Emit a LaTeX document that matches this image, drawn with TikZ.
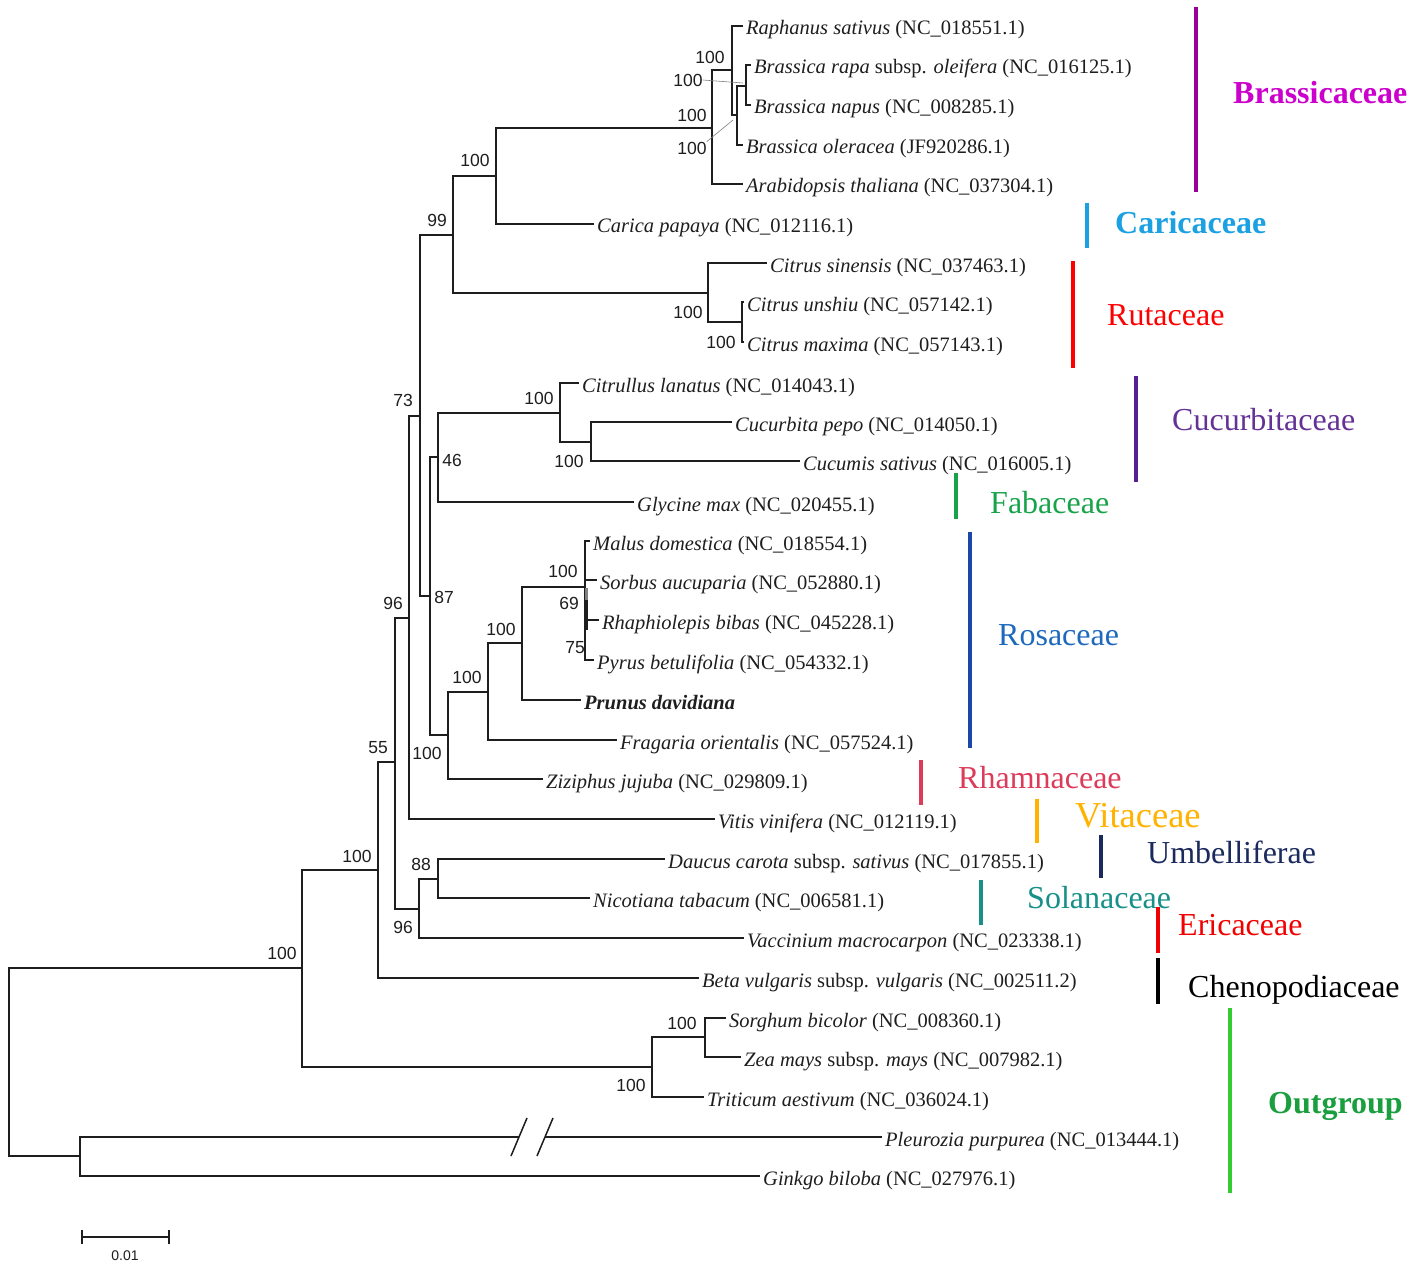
\documentclass[tikz,border=0pt]{standalone}
\usepackage{fontspec}
\setmainfont{Liberation Serif}
\newfontfamily\numfont{Liberation Sans}
\definecolor{brassbar}{RGB}{153,0,153}
\definecolor{brasstext}{RGB}{204,0,204}
\definecolor{caric}{RGB}{27,161,226}
\definecolor{rutc}{RGB}{255,0,0}
\definecolor{cucbar}{RGB}{88,30,150}
\definecolor{cuctext}{RGB}{100,50,150}
\definecolor{fabc}{RGB}{24,163,74}
\definecolor{rosbar}{RGB}{28,70,168}
\definecolor{rostext}{RGB}{30,105,190}
\definecolor{rhamc}{RGB}{220,60,90}
\definecolor{vitc}{RGB}{255,179,0}
\definecolor{umbc}{RGB}{27,42,94}
\definecolor{solc}{RGB}{22,144,136}
\definecolor{eric}{RGB}{240,0,0}
\definecolor{outbar}{RGB}{51,204,51}
\definecolor{outtext}{RGB}{26,158,62}
\definecolor{ink}{RGB}{30,30,30}
\begin{document}
\begin{tikzpicture}[x=1pt,y=-1pt,
  br/.style={line width=1.5pt, draw=ink},
  leaf/.style={anchor=west, inner sep=3pt, text=ink, font=\fontsize{20.5}{24}\selectfont, text height=18pt, text depth=0pt},
  bs/.style={font=\numfont\fontsize{17.5}{20}\selectfont, inner sep=0pt, text=ink},
  fam/.style={anchor=west, inner sep=0pt, font=\fontsize{32}{36}\selectfont, text height=21pt, text depth=0pt},
  fbar/.style={line width=4pt},
  lead/.style={line width=0.6pt, draw=gray},
]
\useasboundingbox (0,0) rectangle (1417,1271);
\fill[white] (0,0) rectangle (1417,1271);

% internal nodes
\coordinate (root) at (9,1062);
\coordinate (out) at (80,1156);
\coordinate (ing) at (302,968);
\coordinate (mono) at (652,1067);
\coordinate (sz) at (705,1037);
\coordinate (A) at (378,870);
\coordinate (B) at (395,762);
\coordinate (C) at (409,618);
\coordinate (F) at (420,416);
\coordinate (N99) at (453,235);
\coordinate (M) at (496,176);
\coordinate (brass) at (712,128);
\coordinate (b732) at (732,70);
\coordinate (b737) at (737,115);
\coordinate (b746) at (746,86);
\coordinate (rut) at (708,293);
\coordinate (cit) at (742,322);
\coordinate (G) at (430,596);
\coordinate (H) at (438,457);
\coordinate (cuc) at (560,413);
\coordinate (cuc2) at (591,442);
\coordinate (I) at (448,735);
\coordinate (J) at (488,692);
\coordinate (K) at (522,643);
\coordinate (mal) at (585,587);
\coordinate (D) at (419,909);
\coordinate (E) at (438,879);

% leaves
\node[leaf] (l1) at (743,26) {\textit{Raphanus sativus} (NC\_018551.1)};
\node[leaf] (l2) at (751,65) {\textit{Brassica rapa} subsp. \textit{oleifera} (NC\_016125.1)};
\node[leaf] (l3) at (751,105) {\textit{Brassica napus} (NC\_008285.1)};
\node[leaf] (l4) at (743,145) {\textit{Brassica oleracea} (JF920286.1)};
\node[leaf] (l5) at (743,184) {\textit{Arabidopsis thaliana} (NC\_037304.1)};
\node[leaf] (l6) at (594,224) {\textit{Carica papaya} (NC\_012116.1)};
\node[leaf] (l7) at (767,263) {\textit{Citrus sinensis} (NC\_037463.1)};
\node[leaf] (l8) at (744,302) {\textit{Citrus unshiu} (NC\_057142.1)};
\node[leaf] (l9) at (744,342) {\textit{Citrus maxima} (NC\_057143.1)};
\node[leaf] (l10) at (579,383) {\textit{Citrullus lanatus} (NC\_014043.1)};
\node[leaf] (l11) at (732,422) {\textit{Cucurbita pepo} (NC\_014050.1)};
\node[leaf] (l12) at (800,461) {\textit{Cucumis sativus} (NC\_016005.1)};
\node[leaf] (l13) at (634,502) {\textit{Glycine max} (NC\_020455.1)};
\node[leaf] (l14) at (590,541) {\textit{Malus domestica} (NC\_018554.1)};
\node[leaf] (l15) at (597,580) {\textit{Sorbus aucuparia} (NC\_052880.1)};
\node[leaf] (l16) at (599,620) {\textit{Rhaphiolepis bibas} (NC\_045228.1)};
\node[leaf] (l17) at (594,660) {\textit{Pyrus betulifolia} (NC\_054332.1)};
\node[leaf] (l18) at (581,700) {\textbf{\textit{Prunus davidiana}}};
\node[leaf] (l19) at (617,740) {\textit{Fragaria orientalis} (NC\_057524.1)};
\node[leaf] (l20) at (543,779) {\textit{Ziziphus jujuba} (NC\_029809.1)};
\node[leaf] (l21) at (715,819) {\textit{Vitis vinifera} (NC\_012119.1)};
\node[leaf] (l22) at (665,859) {\textit{Daucus carota} subsp. \textit{sativus} (NC\_017855.1)};
\node[leaf] (l23) at (590,898) {\textit{Nicotiana tabacum} (NC\_006581.1)};
\node[leaf] (l24) at (744,938) {\textit{Vaccinium macrocarpon} (NC\_023338.1)};
\node[leaf] (l25) at (699,978) {\textit{Beta vulgaris} subsp. \textit{vulgaris} (NC\_002511.2)};
\node[leaf] (l26) at (726,1018) {\textit{Sorghum bicolor} (NC\_008360.1)};
\node[leaf] (l27) at (741,1057) {\textit{Zea mays} subsp. \textit{mays} (NC\_007982.1)};
\node[leaf] (l28) at (704,1097) {\textit{Triticum aestivum} (NC\_036024.1)};
\node[leaf] (l29) at (882,1137) {\textit{Pleurozia purpurea} (NC\_013444.1)};
\node[leaf] (l30) at (760,1176) {\textit{Ginkgo biloba} (NC\_027976.1)};

% tree branches
\draw[br] (root) |- (ing);
\draw[br] (root) |- (out);
\coordinate (brk1) at (519,1137);
\coordinate (brk2) at (545,1137);
\draw[br] (out) |- (brk1);
\draw[br] (brk2) -- (l29.west);
\draw[br] (out) |- (l30.west);
\draw[br] (ing) |- (A);
\draw[br] (ing) |- (mono);
\draw[br] (mono) |- (sz);
\draw[br] (mono) |- (l28.west);
\draw[br] (sz) |- (l26.west);
\draw[br] (sz) |- (l27.west);
\draw[br] (A) |- (B);
\draw[br] (A) |- (l25.west);
\draw[br] (B) |- (C);
\draw[br] (B) |- (D);
\draw[br] (D) |- (E);
\draw[br] (D) |- (l24.west);
\draw[br] (E) |- (l22.west);
\draw[br] (E) |- (l23.west);
\draw[br] (C) |- (F);
\draw[br] (C) |- (l21.west);
\draw[br] (F) |- (N99);
\draw[br] (F) |- (G);
\draw[br] (N99) |- (M);
\draw[br] (N99) |- (rut);
\draw[br] (M) |- (brass);
\draw[br] (M) |- (l6.west);
\draw[br] (brass) |- (b732);
\draw[br] (brass) |- (l5.west);
\draw[br] (b732) |- (l1.west);
\draw[br] (b732) |- (b737);
\draw[br] (b737) |- (b746);
\draw[br] (b737) |- (l4.west);
\draw[br] (b746) |- (l2.west);
\draw[br] (b746) |- (l3.west);
\draw[br] (rut) |- (l7.west);
\draw[br] (rut) |- (cit);
\draw[br] (cit) |- (l8.west);
\draw[br] (cit) |- (l9.west);
\draw[br] (G) |- (H);
\draw[br] (G) |- (I);
\draw[br] (H) |- (cuc);
\draw[br] (H) |- (l13.west);
\draw[br] (cuc) |- (l10.west);
\draw[br] (cuc) |- (cuc2);
\draw[br] (cuc2) |- (l11.west);
\draw[br] (cuc2) |- (l12.west);
\draw[br] (I) |- (J);
\draw[br] (I) |- (l20.west);
\draw[br] (J) |- (K);
\draw[br] (J) |- (l19.west);
\draw[br] (K) |- (mal);
\draw[br] (K) |- (l18.west);
\draw[br] (mal) |- (l14.west);
\draw[br] (mal) |- (l15.west);
\draw[br] (mal) |- (l16.west);
\draw[br] (mal) |- (l17.west);
\draw[line width=3pt, draw=gray] (586,588) -- (586,604);
\draw[line width=3pt, draw=ink] (586,600) -- (586,630);

% break marks
\draw[br] (511,1156) -- (527,1118);
\draw[br] (537,1156) -- (553,1118);

% bootstrap values
\node[bs] (s1) at (710,57) {100};
\node[bs] (s2) at (688,80) {100};
\node[bs] (s3) at (692,115) {100};
\node[bs] (s4) at (692,148) {100};
\draw[lead] (s2.east) -- (743,83);
\draw[lead] (s4.north east) -- (733,120);
\node[bs] (s5) at (475,160) {100};
\node[bs] (s6) at (437,220) {99};
\node[bs] (s7) at (688,312) {100};
\node[bs] (s8) at (721,342) {100};
\node[bs] (s9) at (403,400) {73};
\node[bs] (s10) at (539,398) {100};
\node[bs] (s11) at (569,461) {100};
\node[bs] (s12) at (452,460) {46};
\node[bs] (s13) at (393,603) {96};
\node[bs] (s14) at (444,597) {87};
\node[bs] (s15) at (501,629) {100};
\node[bs] (s16) at (467,677) {100};
\node[bs] (s17) at (427,753) {100};
\node[bs] (s18) at (563,571) {100};
\node[bs] (s19) at (569,603) {69};
\node[bs] (s20) at (575,648) {75};
\node[bs] (s21) at (378,748) {55};
\node[bs] (s22) at (357,856) {100};
\node[bs] (s23) at (421,864) {88};
\node[bs] (s24) at (403,927) {96};
\node[bs] (s25) at (282,953) {100};
\node[bs] (s26) at (682,1023) {100};
\node[bs] (s27) at (631,1085) {100};

% scale bar
\coordinate (sb1) at (82,1237);
\coordinate (sb2) at (169,1237);
\draw[line width=1.5pt, draw=ink] (sb1) -- (sb2);
\draw[line width=1.5pt, draw=ink] ([yshift=-7pt]sb1) -- ([yshift=7pt]sb1);
\draw[line width=1.5pt, draw=ink] ([yshift=-7pt]sb2) -- ([yshift=7pt]sb2);
\node[font=\numfont\fontsize{14}{16}\selectfont, text=ink, inner sep=0pt] (sbl) at (125,1256) {0.01};

% family bars and labels
\draw[fbar, brassbar] (1196,7) -- (1196,192);
\node[fam, text=brasstext, font=\bfseries\fontsize{32}{36}\selectfont] (f1) at (1233,93) {Brassicaceae};
\draw[fbar, caric] (1087,203) -- (1087,248);
\node[fam, text=caric, font=\bfseries\fontsize{32}{36}\selectfont] (f2) at (1115,223) {Caricaceae};
\draw[fbar, rutc] (1073,261) -- (1073,368);
\node[fam, text=rutc] (f3) at (1107,315) {Rutaceae};
\draw[fbar, cucbar] (1136,376) -- (1136,482);
\node[fam, text=cuctext] (f4) at (1172,420) {Cucurbitaceae};
\draw[fbar, fabc] (956,473) -- (956,519);
\node[fam, text=fabc] (f5) at (990,503) {Fabaceae};
\draw[fbar, rosbar] (970,532) -- (970,748);
\node[fam, text=rostext] (f6) at (998,635) {Rosaceae};
\draw[fbar, rhamc] (921,760) -- (921,805);
\node[fam, text=rhamc] (f7) at (958,778) {Rhamnaceae};
\draw[fbar, vitc] (1037,799) -- (1037,843);
\node[fam, text=vitc, font=\fontsize{36.5}{40}\selectfont, text height=24pt] (f8) at (1075,815) {Vitaceae};
\draw[fbar, umbc] (1101,835) -- (1101,878);
\node[fam, text=umbc] (f9) at (1147,853) {Umbelliferae};
\draw[fbar, solc] (981,880) -- (981,925);
\node[fam, text=solc] (f10) at (1027,898) {Solanaceae};
\draw[fbar, eric] (1158,907) -- (1158,953);
\node[fam, text=eric] (f11) at (1178,925) {Ericaceae};
\draw[fbar, black] (1158,958) -- (1158,1004);
\node[fam, text=black] (f12) at (1188,987) {Chenopodiaceae};
\draw[fbar, outbar] (1230,1008) -- (1230,1193);
\node[fam, text=outtext, font=\bfseries\fontsize{32}{36}\selectfont] (f13) at (1268,1103) {Outgroup};
\end{tikzpicture}
\end{document}
